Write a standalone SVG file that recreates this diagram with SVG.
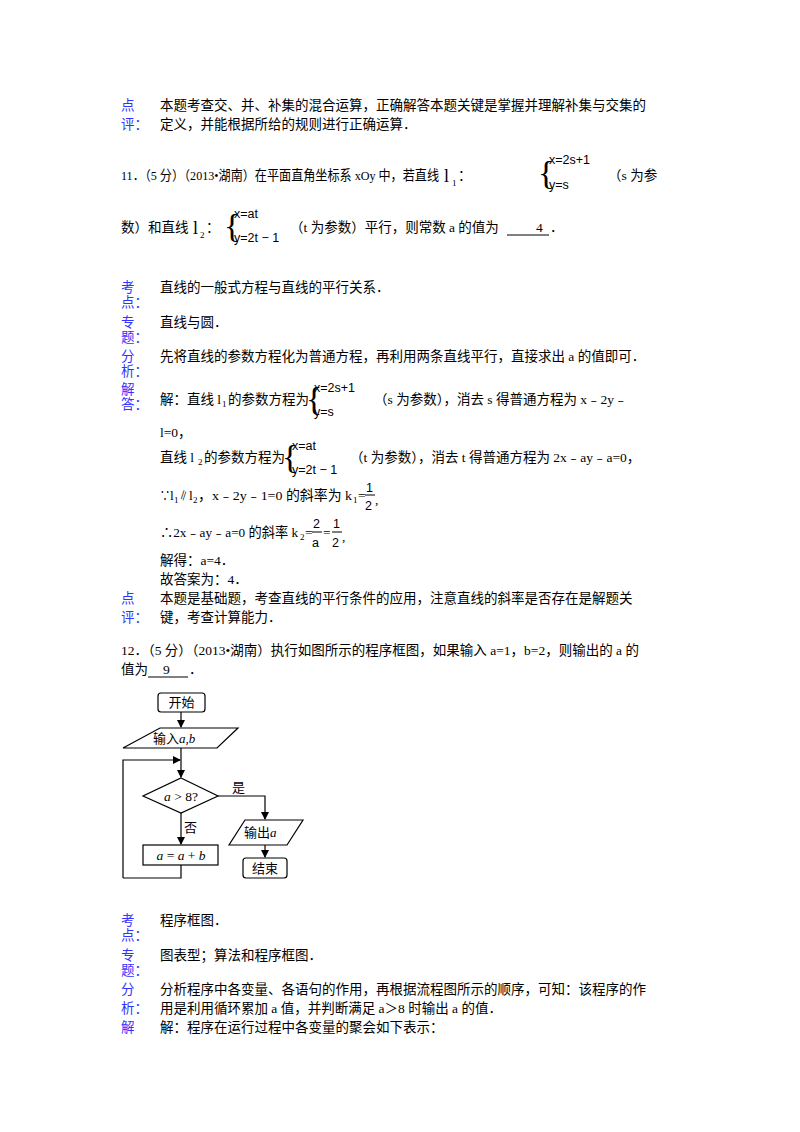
<svg xmlns="http://www.w3.org/2000/svg" width="800" height="1132" viewBox="0 0 800 1132">
<style>
text{font-family:"Liberation Serif","Noto Sans CJK SC",serif;font-size:13.5px;fill:#000}
.b{fill:#3333ff}
.s{font-size:9px}
.m{font-family:"Liberation Sans","Noto Sans CJK SC",sans-serif;font-size:12.5px}
.f{fill:none;stroke:#000;stroke-width:1.2}
.fs{font-family:"Noto Sans CJK SC",sans-serif;font-size:13px}
.i{font-style:italic}
</style>
<defs><marker id="a" markerWidth="8" markerHeight="8" refX="7" refY="4" orient="auto" markerUnits="userSpaceOnUse"><path d="M0,0L8,4L0,8z" fill="#000"/></marker></defs>
<rect width="800" height="1132" fill="#fff"/>
<text x="121" y="110" class="b">点</text><text x="160" y="110">本题考查交、并、补集的混合运算，正确解答本题关键是掌握并理解补集与交集的</text>
<text x="121" y="129" class="b">评：</text><text x="160" y="129">定义，并能根据所给的规则进行正确运算．</text>
<text x="121" y="180" textLength="318" lengthAdjust="spacingAndGlyphs">11．（5 分）（2013•湖南）在平面直角坐标系 xOy 中，若直线</text>
<text x="444" y="182" style="font-size:18px">l</text><text x="452" y="186" class="s">1</text><text x="458" y="180">：</text>
<text x="538" y="184" style="font-size:34px">{</text>
<text x="549" y="164" class="m">x=2s+1</text><text x="549" y="189" class="m">y=s</text>
<text x="608" y="180">（s 为参</text>
<text x="121" y="232">数）和直线</text>
<text x="193" y="234" style="font-size:18px">l</text><text x="200" y="238" class="s">2</text><text x="206" y="232">：</text>
<text x="224" y="237" style="font-size:34px">{</text>
<text x="234" y="218" class="m">x=at</text><text x="234" y="242" class="m">y=2t − 1</text>
<text x="290" y="232">（t 为参数）平行，则常数 a 的值为</text>
<text x="536" y="232">4</text><line x1="507" y1="235" x2="549" y2="235" stroke="#000"/><text x="550" y="232">．</text>
<text x="121" y="292" class="b">考</text><text x="160" y="292">直线的一般式方程与直线的平行关系．</text>
<text x="121" y="307" class="b">点：</text>
<text x="121" y="327" class="b">专</text><text x="160" y="327">直线与圆．</text>
<text x="121" y="342" class="b">题：</text>
<text x="121" y="361" class="b">分</text><text x="160" y="361">先将直线的参数方程化为普通方程，再利用两条直线平行，直接求出 a 的值即可．</text>
<text x="121" y="376" class="b">析：</text>
<text x="121" y="394" class="b">解</text>
<text x="121" y="409" class="b">答：</text>
<text x="160" y="404">解：直线 l</text><text x="222" y="407" class="s">1</text><text x="228" y="404">的参数方程为</text>
<text x="306" y="410" style="font-size:34px">{</text>
<text x="314" y="392" class="m">x=2s+1</text><text x="314" y="416" class="m">y=s</text>
<text x="374" y="404">（s 为参数），消去 s 得普通方程为 x﹣2y﹣</text>
<text x="160" y="437">l=0，</text>
<text x="160" y="462">直线 l</text><text x="198" y="465" class="s">2</text><text x="204" y="462">的参数方程为</text>
<text x="282" y="468" style="font-size:34px">{</text>
<text x="292" y="450" class="m">x=at</text><text x="292" y="474" class="m">y=2t − 1</text>
<text x="350" y="462">（t 为参数），消去 t 得普通方程为 2x﹣ay﹣a=0，</text>
<text x="160" y="500" textLength="10" lengthAdjust="spacingAndGlyphs">∵</text><text x="170" y="500">l</text><text x="174" y="503" class="s">1</text><text x="179" y="500" textLength="9" lengthAdjust="spacingAndGlyphs">∥</text><text x="189" y="500">l</text><text x="193" y="503" class="s">2</text>
<text x="198" y="500" textLength="154" lengthAdjust="spacingAndGlyphs">，x﹣2y﹣1=0 的斜率为 k</text><text x="353" y="503" class="s">1</text><text x="358" y="500">=</text>
<text x="366" y="492" class="m">1</text><line x1="365" y1="495" x2="375" y2="495" stroke="#000"/><text x="365" y="510" class="m">2</text><text x="375" y="504">,</text>
<text x="160" y="537" textLength="138" lengthAdjust="spacingAndGlyphs">∴2x﹣ay﹣a=0 的斜率 k</text><text x="300" y="540" class="s">2</text><text x="305" y="537">=</text>
<text x="313" y="528" class="m">2</text><line x1="312" y1="532" x2="322" y2="532" stroke="#000"/><text x="312" y="547" class="m">a</text>
<text x="323" y="537">=</text>
<text x="333" y="528" class="m">1</text><line x1="332" y1="532" x2="342" y2="532" stroke="#000"/><text x="332" y="547" class="m">2</text><text x="342" y="541">,</text>
<text x="160" y="565">解得：a=4．</text>
<text x="160" y="584">故答案为：4．</text>
<text x="121" y="603" class="b">点</text><text x="160" y="603">本题是基础题，考查直线的平行条件的应用，注意直线的斜率是否存在是解题关</text>
<text x="121" y="622" class="b">评：</text><text x="160" y="622">键，考查计算能力．</text>
<text x="121" y="655">12．（5 分）（2013•湖南）执行如图所示的程序框图，如果输入 a=1，b=2，则输出的 a 的</text>
<text x="121" y="674">值为</text><text x="163" y="674">9</text><line x1="148" y1="677" x2="188" y2="677" stroke="#000"/><text x="189" y="674">．</text>
<g id="start"><rect x="158" y="693" width="47" height="19" rx="3" class="f"/><text x="181.5" y="707" text-anchor="middle" class="fs">开始</text></g>
<g id="input"><path d="M160,728H238L217,748H123Z" class="f"/><text x="153" y="743" class="fs">输入<tspan class="i" style="font-family:'Liberation Serif'">a,b</tspan></text></g>
<g id="cond"><path d="M181,778L218,796L181,813L143,796Z" class="f"/><text x="181" y="801" text-anchor="middle" class="i">a <tspan style="font-style:normal">&gt; 8?</tspan></text></g>
<g id="proc"><rect x="143" y="845" width="75" height="20" class="f"/><text x="181" y="860" text-anchor="middle" class="i">a <tspan style="font-style:normal">=</tspan> a <tspan style="font-style:normal">+</tspan> b</text></g>
<g id="output"><path d="M245,820H303L287,845H229Z" class="f"/><text x="244" y="837" class="fs">输出<tspan class="i" style="font-family:'Liberation Serif'">a</tspan></text></g>
<g id="end"><rect x="243" y="858" width="44" height="20" rx="3" class="f"/><text x="265" y="873" text-anchor="middle" class="fs">结束</text></g>
<g id="connectors" class="f">
<path d="M181,712V727" marker-end="url(#a)"/>
<path d="M181,748V777" marker-end="url(#a)"/>
<path d="M123,878V760H180" marker-end="url(#a)"/>
<path d="M181,865V878H123"/>
<path d="M218,796H265V819" marker-end="url(#a)"/>
<path d="M181,813V844" marker-end="url(#a)"/>
<path d="M265,845V857" marker-end="url(#a)"/>
</g>
<text x="232" y="792" class="fs">是</text>
<text x="184" y="832" class="fs">否</text>
<text x="121" y="925" class="b">考</text><text x="160" y="925">程序框图．</text>
<text x="121" y="940" class="b">点：</text>
<text x="121" y="960" class="b">专</text><text x="160" y="960">图表型；算法和程序框图．</text>
<text x="121" y="975" class="b">题：</text>
<text x="121" y="994" class="b">分</text><text x="160" y="994">分析程序中各变量、各语句的作用，再根据流程图所示的顺序，可知：该程序的作</text>
<text x="121" y="1013" class="b">析：</text><text x="160" y="1013">用是利用循环累加 a 值，并判断满足 a＞8 时输出 a 的值．</text>
<text x="121" y="1032" class="b">解</text><text x="160" y="1032">解：程序在运行过程中各变量的聚会如下表示：</text>
</svg>
